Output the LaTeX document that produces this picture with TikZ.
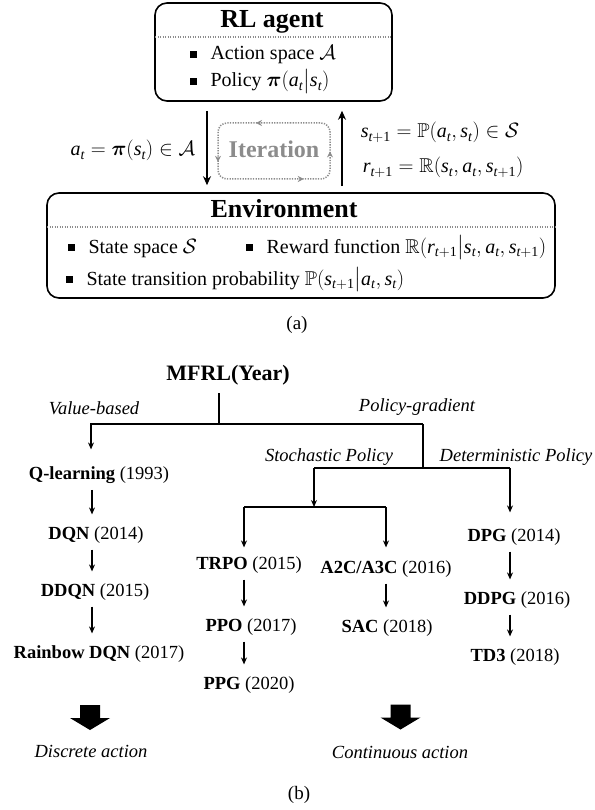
\documentclass[tikz,border=0pt]{standalone}
\usepackage{amsmath}
\usepackage{amssymb}
\usepackage[no-math]{fontspec}
\setmainfont{Liberation Serif}
\DeclareSymbolFont{tirm}{TU}{\rmdefault}{m}{n}
\DeclareSymbolFont{tiit}{TU}{\rmdefault}{m}{it}
\DeclareMathSymbol{a}{\mathalpha}{tiit}{`a}
\DeclareMathSymbol{r}{\mathalpha}{tiit}{`r}
\DeclareMathSymbol{s}{\mathalpha}{tiit}{`s}
\DeclareMathSymbol{t}{\mathalpha}{tiit}{`t}
\DeclareMathSymbol{1}{\mathalpha}{tirm}{`1}
\usetikzlibrary{arrows.meta,decorations.markings}
\tikzset{>={Stealth[length=7pt,width=6pt]}}
\newcommand*{\sqb}{\rule[.12em]{.34em}{.34em}}
\newcommand*{\fs}[1]{\fontsize{#1}{#1}\selectfont}
\newcommand*{\given}{\smash{\big|}}
\tikzset{pics/bigdown/.style={code={
  \fill (-10,-12.5) -- (10,-12.5) -- (10,.5) -- (20,.5) -- (0,12.5) -- (-20,.5) -- (-10,.5) -- cycle;}}}

\begin{document}
\begin{tikzpicture}[x=1pt,y=-1pt,line width=1.5pt,
  panel/.style={draw,line width=1.6pt,rounded corners=12pt,inner sep=0},
  head/.style={anchor=base,inner sep=0,font=\fs{26}\bfseries},
  item/.style={anchor=base west,inner sep=0,font=\fs{20}},
  lab/.style={inner sep=0,font=\fs{20}},
  alg/.style={anchor=base,inner sep=0,font=\fs{18.5}},
  kind/.style={anchor=base,inner sep=0,font=\fs{18.5}\itshape},
  seq/.style={->,shorten <=6pt,shorten >=11pt},
  main/.style={->,>={Stealth[length=9pt,width=8pt]},line width=2pt},
  sep/.style={black!45,dash pattern=on 1pt off 1.5pt,line width=1.2pt},
  iterloop/.style={black!45,dash pattern=on 1.3pt off 1.3pt,line width=1.5pt,rounded corners=9pt,
    postaction=decorate,decoration={markings,
      mark=at position 35pt with {\arrow{Stealth[length=6pt,width=6pt]}},
      mark=at position 108pt with {\arrow{Stealth[length=6pt,width=6pt]}},
      mark=at position 207pt with {\arrow{Stealth[length=6pt,width=6pt]}},
      mark=at position 257pt with {\arrow{Stealth[length=6pt,width=6pt]}}}}]
\useasboundingbox (0,0) rectangle (594,810);

% (a) agent / environment loop
\node[panel,minimum width=237pt,minimum height=98pt] (agent) at (273.5,52) {};
\node[head] (agentT) at (272,28) {RL agent};
\draw[sep] (155,37) -- (392,37);
\node[item] (actsp) at (189,60) {\sqb\hspace{.7em}Action space $\mathcal{A}$};
\node[item] (pol) at (189,87) {\sqb\hspace{.7em}Policy $\boldsymbol{\pi}(a_t\given s_t)$};

\node[panel,minimum width=508pt,minimum height=105pt] (env) at (301,245.5) {};
\node[head] (envT) at (284,218) {Environment};
\draw[sep] (47,227) -- (555,227);
\node[item] (stsp) at (67,253) {\sqb\hspace{.7em}State space $\mathcal{S}$};
\node[item] (rwf) at (245,253) {\sqb\hspace{.7em}Reward function $\mathbb{R}(r_{t+1}\given s_t,a_t,s_{t+1})$};
\node[item] (trp) at (65,285) {\sqb\hspace{.7em}State transition probability $\mathbb{P}(s_{t+1}\given a_t,s_t)$};

\coordinate (dn) at (207,0);
\coordinate (up) at (342,0);
\draw[main,shorten <=9pt,shorten >=7pt] (agent.south -| dn) -- (env.north -| dn);
\draw[main,shorten <=6pt,shorten >=9pt] (env.north -| up) -- (agent.south -| up);
\node[lab,anchor=base east] (actl) at (196,156) {$a_t=\boldsymbol{\pi}(s_t)\in\mathcal{A}$};
\node[lab,anchor=base west] (stl) at (360,138) {$s_{t+1}=\mathbb{P}(a_t,s_t)\in\mathcal{S}$};
\node[lab,anchor=base west] (rwl) at (362,173) {$r_{t+1}=\mathbb{R}(s_t,a_t,s_{t+1})$};

\draw[iterloop] (300,123) -- (218,123) -- (218,179) -- (330,179) -- (330,123) -- cycle;
\node[font=\fs{24}\bfseries,text=black!45,anchor=base] (iter) at (274,158) {Iteration};

\node[anchor=base,font=\fs{19}] (capa) at (297,329) {(a)};

% (b) model-free RL family tree
\node[alg,font=\fs{22}\bfseries] (mfrl) at (228,380) {MFRL(Year)};
\node[kind] (vb) at (94,414) {Value-based};
\node[kind] (pg) at (417,411) {Policy-gradient};
\node[kind] (sp) at (329,461) {Stochastic Policy};
\node[kind] (dp) at (516,461) {Deterministic Policy};

\node[alg] (ql) at (99,479) {\textbf{Q-learning} (1993)};
\node[alg] (dqn) at (96,539) {\textbf{DQN} (2014)};
\node[alg] (ddqn) at (95,596) {\textbf{DDQN} (2015)};
\node[alg] (rain) at (99,658) {\textbf{Rainbow DQN} (2017)};
\node[alg] (trpo) at (249,569) {\textbf{TRPO} (2015)};
\node[alg] (ppo) at (251,631) {\textbf{PPO} (2017)};
\node[alg] (ppg) at (249,689) {\textbf{PPG} (2020)};
\node[alg] (a2c) at (386,573) {\textbf{A2C/A3C} (2016)};
\node[alg] (sac) at (387,632) {\textbf{SAC} (2018)};
\node[alg] (dpg) at (514,541) {\textbf{DPG} (2014)};
\node[alg] (ddpg) at (517,604) {\textbf{DDPG} (2016)};
\node[alg] (td3) at (515,661) {\textbf{TD3} (2018)};

\coordinate (root) at (219,424);
\coordinate (vbj) at (91,424);
\coordinate (pgj) at (423,424);
\coordinate (pgd) at (423,468);
\coordinate (stj) at (314,468);
\coordinate (dtj) at (510,468);
\coordinate (stm) at (314,507);
\coordinate (trj) at (244,507);
\coordinate (a2j) at (386,507);
\coordinate (colA) at (92,0);
\coordinate (colB) at (244,0);
\coordinate (colC) at (386,0);
\coordinate (colD) at (510,0);

\draw[shorten <=8pt] (mfrl.south -| root) -- (root);
\draw[->,shorten >=16pt] (pgj) -- (vbj) -- (ql.north -| vbj);
\draw (pgj) -- (pgd);
\draw (stj) -- (dtj);
\draw[->] (stj) -- (stm);
\draw[->,shorten >=15pt] (dtj) -- (dpg.north -| dtj);
\draw (trj) -- (a2j);
\draw[->,shorten >=8pt] (trj) -- (trpo.north -| trj);
\draw[->,shorten >=12pt] (a2j) -- (a2c.north -| a2j);
\foreach \a/\b/\c in {ql/dqn/colA,dqn/ddqn/colA,ddqn/rain/colA,trpo/ppo/colB,
    ppo/ppg/colB,a2c/sac/colC,dpg/ddpg/colD,ddpg/td3/colD}
  \draw[seq] (\a.south -| \c) -- (\b.north -| \c);

\pic (bigl) at (90,717.5) {bigdown};
\pic (bigr) at (400.5,717) {bigdown};
\node[kind] (disc) at (91,757) {Discrete action};
\node[kind] (cont) at (400,758) {Continuous action};

\node[anchor=base,font=\fs{19}] (capb) at (299,799) {(b)};
\end{tikzpicture}
\end{document}
